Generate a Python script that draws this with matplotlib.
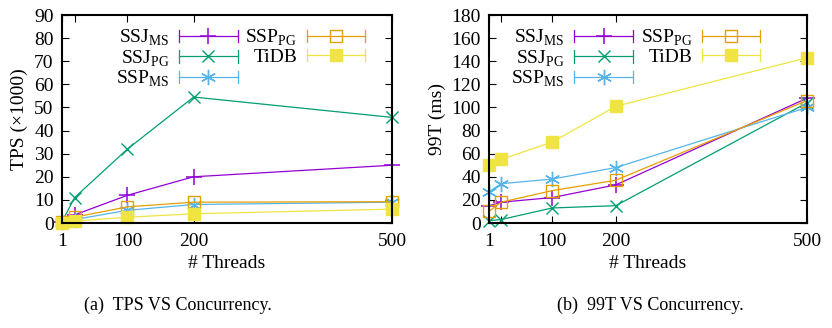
import matplotlib
matplotlib.use('Agg')
import matplotlib.pyplot as plt
from matplotlib.lines import Line2D
from matplotlib.legend_handler import HandlerLine2D

plt.rcParams['font.family'] = ['Liberation Serif', 'DejaVu Serif']
plt.rcParams['mathtext.fontset'] = 'custom'
plt.rcParams['mathtext.rm'] = 'Liberation Serif'
plt.rcParams['font.size'] = 11

threads = [1, 20, 100, 200, 500]
names = [r'SSJ$_{\mathrm{MS}}$', r'SSJ$_{\mathrm{PG}}$', r'SSP$_{\mathrm{MS}}$',
         r'SSP$_{\mathrm{PG}}$', 'TiDB']

# throughput, x1000 transactions per second
tps_ssj_ms = [0.5, 3.5, 12, 20, 25]
tps_ssj_pg = [0.5, 11, 32, 54.5, 45.7]
tps_ssp_ms = [0.5, 1.5, 5.5, 8, 9]
tps_ssp_pg = [0.5, 2.5, 7, 9, 9.2]
tps_tidb = [0, 0.8, 2.5, 4, 6]

# 99th percentile latency, ms
lat_ssj_ms = [15, 18, 22, 33, 108]
lat_ssj_pg = [2, 3, 13, 15, 104]
lat_ssp_ms = [27, 34, 38, 48, 100]
lat_ssp_pg = [10, 18, 28, 37, 106]
lat_tidb = [50, 55, 70, 101, 143]

styles = [
    dict(color='#9400d3', marker='+', ms=11, mew=1.1),
    dict(color='#009e73', marker='x', ms=9, mew=1.0),
    dict(color='#56b4e9', marker=(6, 2, 0), ms=11, mew=1.0),
    dict(color='#e69f00', marker='s', ms=9, mew=1.0, mfc='none'),
    dict(color='#f0e442', marker='s', ms=9, mew=1.0),
]


class CappedLine(HandlerLine2D):
    # gnuplot-style key sample: line with short caps at both ends
    def create_artists(self, legend, orig_handle, xdescent, ydescent,
                       width, height, fontsize, trans):
        arts = super().create_artists(legend, orig_handle, xdescent, ydescent,
                                      width, height, fontsize, trans)
        y = height / 2 - ydescent
        h = height * 0.45
        for x in (-xdescent, width - xdescent):
            cap = Line2D([x, x], [y - h, y + h], color=orig_handle.get_color(),
                         lw=orig_handle.get_linewidth(), transform=trans)
            arts.append(cap)
        return arts


fig = plt.figure(figsize=(8.32, 3.28), dpi=100)
ax1 = fig.add_axes([62 / 832, 1 - 223 / 328, 330 / 832, 208 / 328])
ax2 = fig.add_axes([489 / 832, 1 - 223 / 328, 318 / 832, 208 / 328])


def draw(ax, series, ymax, ystep, ylabel, anchor):
    for vals, name, st in zip(series, names, styles):
        ax.plot(threads, vals, lw=0.9, label=name, clip_on=False, **st)
    ax.set_xlim(1, 500)
    ax.set_ylim(0, ymax)
    ax.set_xticks(threads)
    ax.set_xticklabels(['1', '', '100', '200', '500'])
    ax.set_yticks(range(0, ymax + 1, ystep))
    ax.tick_params(direction='in', top=True, right=True, length=5, width=0.8,
                   labelsize=14)
    ax.tick_params(axis='x', pad=7)
    ax.tick_params(axis='y', pad=6)
    for sp in ax.spines.values():
        sp.set_linewidth(1.5)
    ax.set_xlabel('# Threads', fontsize=14, labelpad=4)
    ax.set_ylabel(ylabel, fontsize=14, labelpad=4)
    ax.legend(ncol=2, loc='upper left', bbox_to_anchor=anchor, frameon=False,
              markerfirst=False, handlelength=3.0, fontsize=14,
              labelspacing=0.0, columnspacing=0.4, handletextpad=0.5,
              borderaxespad=0.0, handler_map={Line2D: CappedLine()})


draw(ax1, [tps_ssj_ms, tps_ssj_pg, tps_ssp_ms, tps_ssp_pg, tps_tidb], 90, 10,
     'TPS (×1000)', (0.14, 0.975))
draw(ax2, [lat_ssj_ms, lat_ssj_pg, lat_ssp_ms, lat_ssp_pg, lat_tidb], 180, 20,
     '99T (ms)', (0.045, 0.975))

fig.text(178 / 832, 1 - 305 / 328, '(a)  TPS VS Concurrency.', ha='center',
         va='center', fontsize=13)
fig.text(650 / 832, 1 - 305 / 328, '(b)  99T VS Concurrency.', ha='center',
         va='center', fontsize=13)

fig.savefig('out.png', dpi=100)
